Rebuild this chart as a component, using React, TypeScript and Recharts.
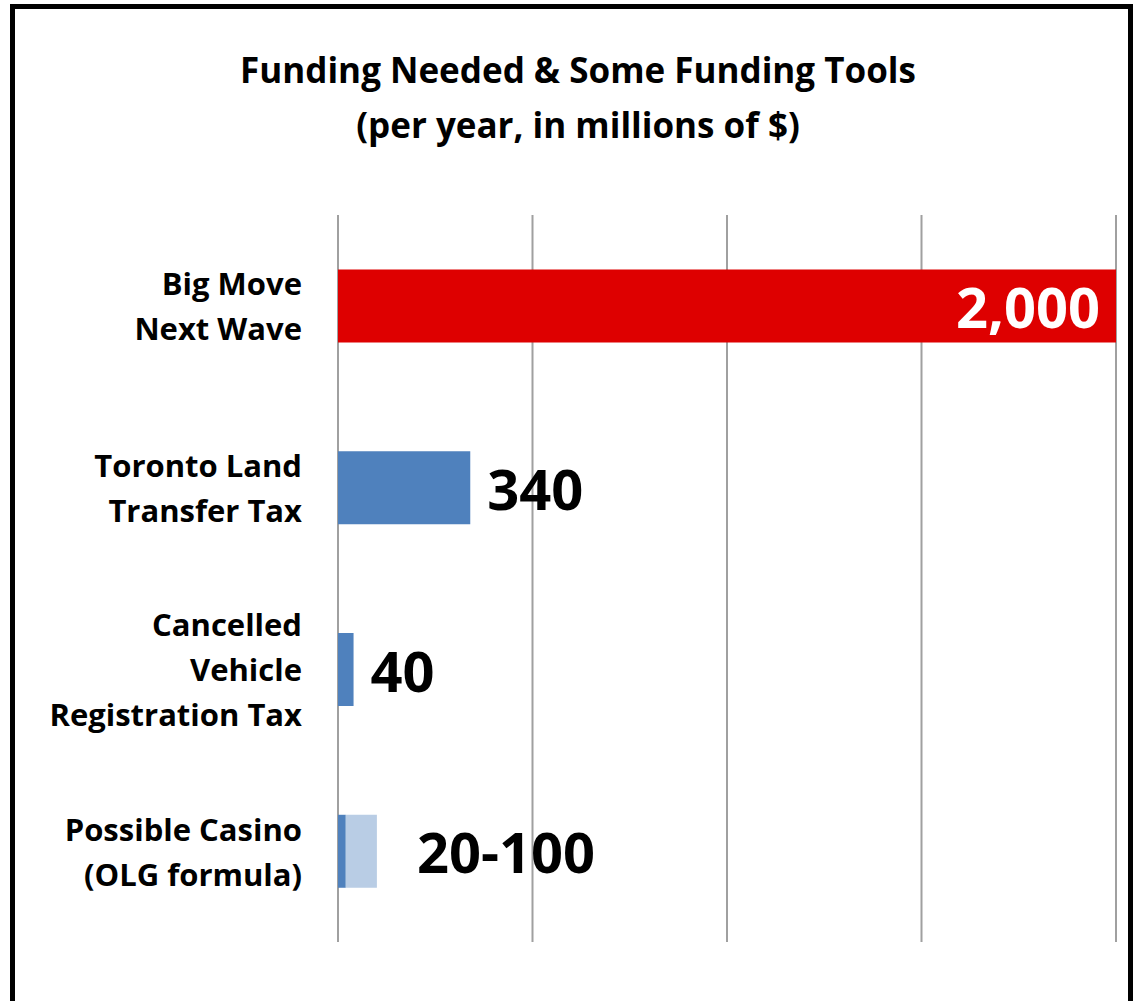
import { Bar, BarChart, CartesianGrid, Cell, LabelList, XAxis, YAxis } from 'recharts';

// categories (line breaks as in the original axis labels)
const categories = [
  'Big Move\nNext Wave',
  'Toronto Land\nTransfer Tax',
  'Cancelled\nVehicle\nRegistration Tax',
  'Possible Casino\n(OLG formula)',
];
// millions of $ per year
const baseValues = [2000, 340, 40, 20];
const rangeExtra = [0, 0, 0, 80]; // casino: 20 up to 100
const valueLabels = ['2,000', '340', '40', '20-100'];
const xTicks = [0, 500, 1000, 1500, 2000];

const data = categories.map((name, i) => ({
  name,
  base: baseValues[i],
  extra: rangeExtra[i],
  label: valueLabels[i],
}));

const FONT = '"Open Sans", sans-serif';

function CategoryTick(props: any) {
  const { x, y, payload } = props;
  const lines = String(payload.value).split('\n');
  const lh = 45;
  const start = -((lines.length - 1) * lh) / 2;
  return (
    <text
      x={x}
      y={y}
      textAnchor="end"
      fontFamily={FONT}
      fontWeight={700}
      fontSize={31}
      fill="#000"
    >
      {lines.map((l, i) => (
        <tspan key={i} x={x} y={y + start + i * lh} dominantBaseline="central">
          {l}
        </tspan>
      ))}
    </text>
  );
}

function ValueLabel(props: any) {
  const { x, y, width, height, value, index } = props;
  const inside = index === 0;
  // stacked range part (same scale as the base bar)
  const extraW = (rangeExtra[index] * width) / baseValues[index];
  const end = x + width + extraW;
  const gap = index === 3 ? 40 : 17;
  const lx = inside ? end - 16 : end + gap;
  return (
    <text
      x={lx}
      y={y + height / 2}
      textAnchor={inside ? 'end' : 'start'}
      dominantBaseline="central"
      fontFamily={FONT}
      fontWeight={700}
      fontSize={56}
      fill={inside ? '#fff' : '#000'}
    >
      {value}
    </text>
  );
}

export default function App() {
  return (
    <div
      style={{
        position: 'absolute',
        left: 0,
        top: 0,
        width: 1136,
        height: 1001,
        overflow: 'hidden',
        background: '#fff',
      }}
    >
      <div
        style={{
          position: 'absolute',
          left: 10,
          top: 4,
          width: 1113,
          height: 1020,
          border: '5px solid #000',
        }}
      />
      <div
        style={{
          position: 'absolute',
          left: 0,
          top: 42,
          width: 1156,
          textAlign: 'center',
          fontFamily: FONT,
          fontWeight: 700,
          fontSize: 35,
          lineHeight: '55px',
          color: '#000',
        }}
      >
        Funding Needed &amp; Some Funding Tools
        <br />
        (per year, in millions of $)
      </div>
      <div style={{ position: 'absolute', left: 0, top: 0 }}>
        <BarChart
          width={1136}
          height={1001}
          data={data}
          layout="vertical"
          barCategoryGap="30%"
          margin={{ top: 215, right: 20, bottom: 59, left: 0 }}
        >
          <CartesianGrid horizontal={false} stroke="#a0a0a0" strokeWidth={2} />
          <XAxis
            type="number"
            domain={[0, 2000]}
            ticks={xTicks}
            tick={{ fill: 'transparent', fontSize: 1 }}
            axisLine={false}
            tickLine={false}
            height={0}
          />
          <YAxis
            type="category"
            dataKey="name"
            width={338}
            axisLine={false}
            tickLine={false}
            tickSize={0}
            tickMargin={36}
            tick={<CategoryTick />}
            interval={0}
          />
          <Bar dataKey="base" stackId="a" isAnimationActive={false}>
            {data.map((_, i) => (
              <Cell key={i} fill={i === 0 ? '#de0000' : '#4f81bd'} />
            ))}
            <LabelList dataKey="label" content={<ValueLabel />} />
          </Bar>
          <Bar dataKey="extra" stackId="a" fill="#b9cde5" isAnimationActive={false} />
        </BarChart>
      </div>
    </div>
  );
}
